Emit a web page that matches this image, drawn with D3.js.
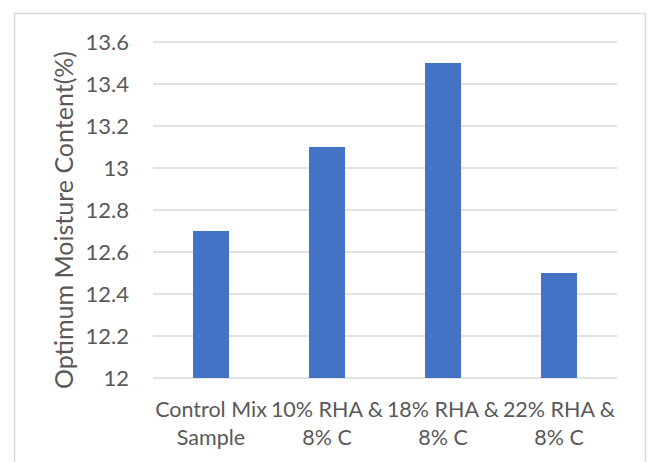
<!DOCTYPE html>
<html>
<head>
<meta charset="utf-8">
<script src="https://cdn.jsdelivr.net/npm/d3@7"></script>
<style>
  body { margin: 0; background: #fff; }
  text { font-family: Lato, sans-serif; fill: #595959; }
</style>
</head>
<body>
<div id="chart"></div>
<script>
// Data
const categories = [["Control Mix", "Sample"], ["10% RHA &", "8% C"], ["18% RHA &", "8% C"], ["22% RHA &", "8% C"]];
const values = [12.7, 13.1, 13.5, 12.5];
const yTicks = [12, 12.2, 12.4, 12.6, 12.8, 13, 13.2, 13.4, 13.6];
const yTitle = "Optimum Moisture Content(%)";

const W = 649, H = 462;
const margin = { top: 42, right: 32, bottom: 84, left: 153 };
const width = W - margin.left - margin.right;
const height = H - margin.top - margin.bottom;

const root = d3.select("#chart").append("svg")
    .attr("width", W)
    .attr("height", H);

// Outer chart border (bottom edge is cut off)
root.append("rect")
    .attr("x", 14.5)
    .attr("y", 13.5)
    .attr("width", 631)
    .attr("height", 470)
    .attr("fill", "none")
    .attr("stroke", "#d9d9d9")
    .attr("stroke-width", 1.5);

const svg = root.append("g")
    .attr("transform", `translate(${margin.left}, ${margin.top})`);

// Scales
const x = d3.scaleBand()
    .domain(d3.range(categories.length))
    .range([0, width])
    .paddingInner(0.69)
    .paddingOuter(0.345);

const y = d3.scaleLinear()
    .domain([12, 13.6])
    .range([height, 0]);

// Gridlines
svg.append("g")
    .selectAll("line")
    .data(yTicks)
    .join("line")
    .attr("x1", 0)
    .attr("x2", width)
    .attr("y1", d => y(d))
    .attr("y2", d => y(d))
    .attr("stroke", "#d9d9d9")
    .attr("stroke-width", 1.5);

// Y axis labels
const yAxis = svg.append("g")
    .call(d3.axisLeft(y).tickValues(yTicks).tickSize(0).tickPadding(24).tickFormat(d => d3.format("")(+d.toFixed(1))));
yAxis.select(".domain").remove();
yAxis.attr("font-family", null).attr("font-size", null);
yAxis.selectAll("text")
    .style("font-size", "22px")
    .attr("fill", "#595959");

// Bars
svg.selectAll(".bar")
    .data(values)
    .join("rect")
    .attr("class", "bar")
    .attr("x", (d, i) => x(i))
    .attr("width", x.bandwidth())
    .attr("y", d => y(d))
    .attr("height", d => height - y(d))
    .attr("fill", "#4472c4");

// X labels
const band = d3.scaleBand().domain(d3.range(categories.length)).range([0, width]);
svg.append("g")
    .selectAll("text")
    .data(categories)
    .join("text")
    .attr("text-anchor", "middle")
    .attr("x", (d, i) => band(i) + band.bandwidth() / 2)
    .attr("y", height + 39)
    .style("font-size", "21.5px")
    .selectAll("tspan")
    .data(d => d)
    .join("tspan")
    .attr("x", function () { return this.parentNode.getAttribute("x"); })
    .attr("dy", (d, i) => i === 0 ? 0 : 28)
    .text(d => d);

// Y axis title
svg.append("text")
    .attr("transform", "rotate(-90)")
    .attr("x", -(height / 2 + 10))
    .attr("y", -80)
    .attr("text-anchor", "middle")
    .style("font-size", "25px")
    .text(yTitle);
</script>
</body>
</html>
